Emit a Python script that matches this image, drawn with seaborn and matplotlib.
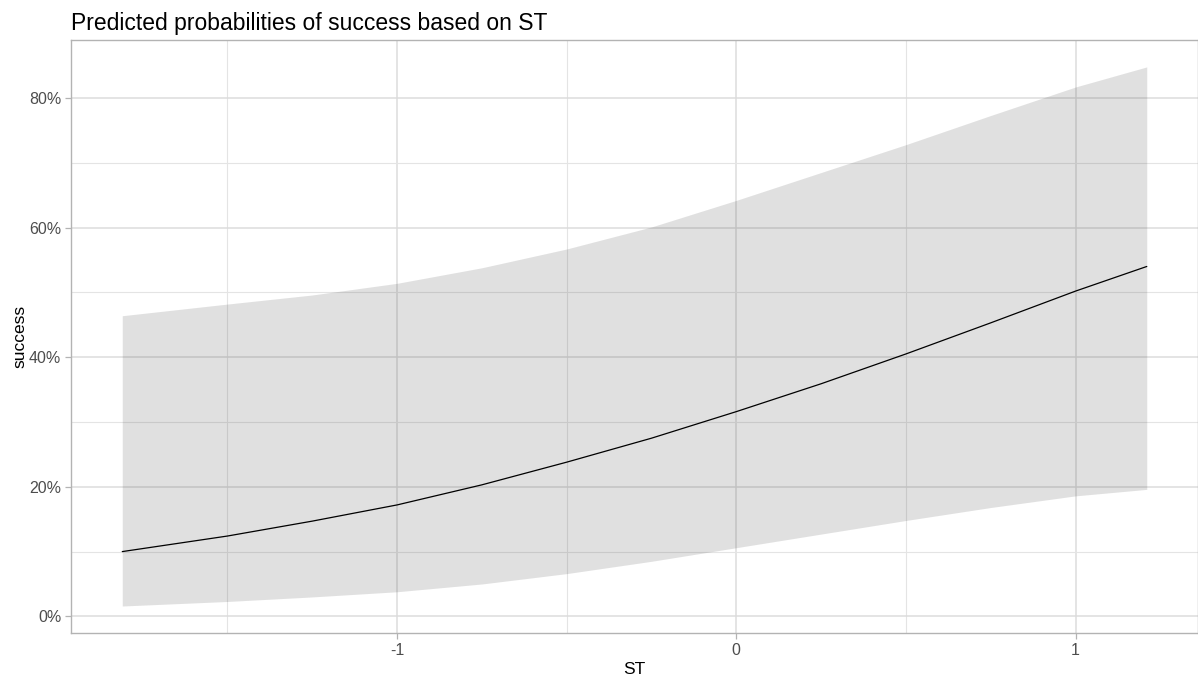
import numpy as np
import pandas as pd
import matplotlib
matplotlib.use("Agg")
import matplotlib.pyplot as plt
from matplotlib.ticker import FixedLocator, PercentFormatter
import seaborn as sns

# Predicted probability of success across ST, with its confidence band
st = [-1.81, -1.5, -1.25, -1.0, -0.75, -0.5, -0.25, 0.0, 0.25, 0.5, 0.75, 1.0, 1.21]
predicted = [0.100, 0.124, 0.147, 0.172, 0.203, 0.238, 0.275, 0.316, 0.359, 0.405, 0.453, 0.502, 0.540]
ci_low = [0.016, 0.023, 0.030, 0.038, 0.050, 0.066, 0.085, 0.106, 0.127, 0.148, 0.168, 0.186, 0.196]
ci_high = [0.464, 0.482, 0.496, 0.514, 0.538, 0.567, 0.601, 0.642, 0.685, 0.728, 0.773, 0.817, 0.848]

x_major = [-1, 0, 1]
x_minor = [-1.5, -0.5, 0.5]
y_major = [0.0, 0.2, 0.4, 0.6, 0.8]
y_minor = [0.1, 0.3, 0.5, 0.7]

df = pd.DataFrame({"ST": st, "success": predicted, "low": ci_low, "high": ci_high})

sns.set_theme(style="white")
plt.rcParams["font.family"] = ["Liberation Sans", "DejaVu Sans"]

fig = plt.figure(figsize=(11.98, 6.84), dpi=100)
ax = fig.add_axes([0.0593, 0.0746, 0.9407, 0.867])

# grid: major and minor lines in light grey
ax.xaxis.set_major_locator(FixedLocator(x_major))
ax.xaxis.set_minor_locator(FixedLocator(x_minor))
ax.yaxis.set_major_locator(FixedLocator(y_major))
ax.yaxis.set_minor_locator(FixedLocator(y_minor))
ax.grid(which="major", color="#dcdcdc", linewidth=1.1)
ax.grid(which="minor", color="#e4e4e4", linewidth=0.8)
ax.set_axisbelow(True)

ax.fill_between(df["ST"], df["low"], df["high"], color="#333333", alpha=0.15,
                linewidth=0, zorder=2)
sns.lineplot(data=df, x="ST", y="success", ax=ax, color="black", linewidth=0.9,
             zorder=3)

# ggplot-style 5% expansion around the data range
xr = max(st) - min(st)
yr = max(ci_high) - min(ci_low)
ax.set_xlim(min(st) - 0.05 * xr, max(st) + 0.05 * xr)
ax.set_ylim(min(ci_low) - 0.05 * yr, max(ci_high) + 0.05 * yr)

ax.yaxis.set_major_formatter(PercentFormatter(1.0, decimals=0))
ax.set_xticklabels(["-1", "0", "1"])

for side in ["left", "bottom", "top", "right"]:
    ax.spines[side].set_visible(True)
    ax.spines[side].set_color("#b3b3b3")
    ax.spines[side].set_linewidth(1.0)

ax.tick_params(axis="both", which="major", length=4, width=0.9, color="#b3b3b3",
               labelsize=11.5, labelcolor="#4d4d4d", pad=3, bottom=True, left=True)
ax.tick_params(axis="both", which="minor", length=0)

ax.set_xlabel("ST", fontsize=12.5, color="black", labelpad=3)
ax.set_ylabel("success", fontsize=12.5, color="black", labelpad=1)
ax.set_title("Predicted probabilities of success based on ST", fontsize=16.5,
             color="black", loc="left", pad=7)

fig.savefig("out.png", dpi=100)
